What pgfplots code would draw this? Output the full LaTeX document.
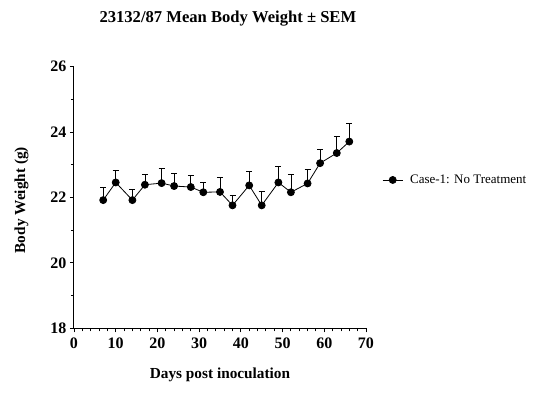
\documentclass[border=0pt]{standalone}
\usepackage{fontspec}
\setmainfont{Liberation Serif}
\usepackage{pgfplots}
\pgfplotsset{compat=1.18}

\begin{document}
\begin{tikzpicture}
\begin{axis}[
  at={(0pt,0pt)}, anchor=south west,
  scale only axis,
  width=292pt, height=261.6pt,
  xmin=0, xmax=70, ymin=18, ymax=26,
  axis x line*=bottom, axis y line*=left,
  axis line style={line width=1pt},
  xtick={0,10,...,70}, ytick={18,20,...,26},
  minor x tick num=4, minor y tick num=1,
  tick align=outside,
  major tick length=4pt, minor tick length=3pt,
  every tick/.style={line width=0.9pt, black},
  /pgf/number format/assume math mode=true,
  ticklabel style={font=\fontsize{16}{18}\selectfont\bfseries},
  xticklabel style={yshift=-2pt},
  title={23132/87 Mean Body Weight ± SEM},
  title style={font=\fontsize{16.6}{19}\selectfont\bfseries, at={(axis description cs:0.527,1)}, anchor=center, yshift=42pt},
  xlabel={Days post inoculation},
  xlabel style={font=\fontsize{15.3}{18}\selectfont\bfseries, at={(axis description cs:0.5,0)}, anchor=center, yshift=-46.5pt},
  ylabel={Body Weight (g)},
  ylabel style={font=\fontsize{15.3}{18}\selectfont\bfseries, at={(axis description cs:-0.18,0.49)}, anchor=center},
  legend style={draw=none, fill=none, at={(axis description cs:1.045,0.567)}, anchor=west,
    font=\fontsize{13}{15}\selectfont},
  legend image code/.code={
    \draw[black, line width=0.8pt] (0pt,0pt) -- (20pt,0pt);
    \fill[black] (10pt,0pt) circle (3.5pt);
    \path (25pt,0pt);
  },
  clip=false,
]
\addplot[black, line width=0.8pt, mark=*, mark size=3.5pt,
  error bars/.cd, y dir=plus, y explicit,
  error mark=|, error mark options={line width=0.9pt, mark size=3pt, black},
  error bar style={line width=0.8pt, black}]
  table[x=day, y=w, y error=sem] {
  day w sem
  7  21.92 0.39
  10 22.46 0.37
  14 21.92 0.32
  17 22.39 0.32
  21 22.44 0.45
  24 22.35 0.40
  28 22.32 0.36
  31 22.16 0.31
  35 22.17 0.43
  38 21.76 0.30
  42 22.37 0.42
  45 21.76 0.42
  49 22.46 0.48
  52 22.16 0.54
  56 22.43 0.43
  59 23.05 0.41
  63 23.36 0.51
  66 23.71 0.56
  };
\addlegendentry{Case-1: No Treatment}
\end{axis}
\path[use as bounding box] (-74pt,-82.7pt) rectangle (465pt,328.3pt);
\end{tikzpicture}
\end{document}
